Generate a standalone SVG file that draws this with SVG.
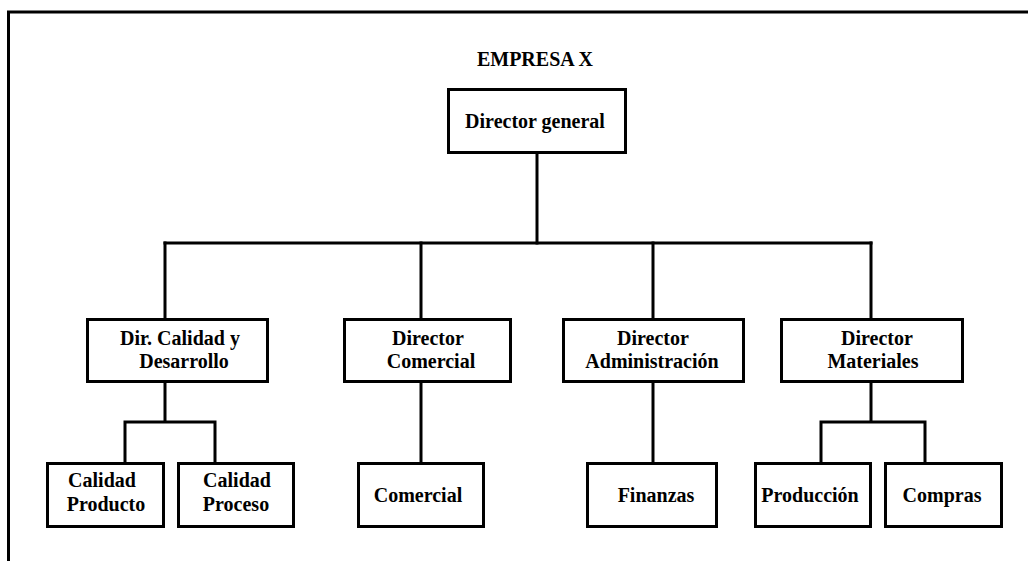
<svg xmlns="http://www.w3.org/2000/svg" width="1028" height="561" viewBox="0 0 1028 561">
  <style>
    .box { fill: #ffffff; stroke: #000000; stroke-width: 3; }
    .link { fill: none; stroke: #000000; stroke-width: 3; stroke-linecap: square; }
    .frame { fill: none; stroke: #000000; stroke-width: 3; }
    text { font-family: "Liberation Serif", "Times New Roman", serif; font-weight: bold; font-size: 20px; fill: #000000; text-anchor: middle; }
  </style>
  <rect width="1028" height="561" fill="#ffffff"/>

  <!-- open frame: top and left edges only -->
  <path class="frame" d="M8.5,561 V12 H1028"/>

  <text id="title" x="535" y="66">EMPRESA X</text>

  <!-- connectors -->
  <g id="connectors">
    <path class="link" d="M537,153 V243"/>
    <path class="link" d="M165,243 H871"/>
    <path class="link" d="M165,243 V318 M421,243 V318 M653,243 V318 M871,243 V318"/>
    <path class="link" d="M165,383 V422 M125,422 H215 M125,422 V462 M215,422 V462"/>
    <path class="link" d="M421,383 V462"/>
    <path class="link" d="M653,383 V462"/>
    <path class="link" d="M871,383 V422 M821,422 H925 M821,422 V462 M925,422 V462"/>
  </g>

  <!-- top level -->
  <g id="director-general">
    <rect class="box" x="448.5" y="89.5" width="177" height="63"/>
    <text x="535" y="128">Director general</text>
  </g>

  <!-- second level -->
  <g id="dir-calidad">
    <rect class="box" x="87.5" y="319.5" width="180" height="62"/>
    <text x="180" y="345">Dir. Calidad y</text>
    <text x="184" y="368">Desarrollo</text>
  </g>
  <g id="dir-comercial">
    <rect class="box" x="344.5" y="319.5" width="166" height="62"/>
    <text x="428" y="345">Director</text>
    <text x="431" y="368">Comercial</text>
  </g>
  <g id="dir-administracion">
    <rect class="box" x="563.5" y="319.5" width="180" height="62"/>
    <text x="653" y="345">Director</text>
    <text x="652" y="368">Administración</text>
  </g>
  <g id="dir-materiales">
    <rect class="box" x="781.5" y="319.5" width="181" height="62"/>
    <text x="877" y="345">Director</text>
    <text x="873" y="368">Materiales</text>
  </g>

  <!-- third level -->
  <g id="calidad-producto">
    <rect class="box" x="47.5" y="463.5" width="116" height="63"/>
    <text x="102" y="487">Calidad</text>
    <text x="106" y="511">Producto</text>
  </g>
  <g id="calidad-proceso">
    <rect class="box" x="178.5" y="463.5" width="115" height="63"/>
    <text x="237" y="487">Calidad</text>
    <text x="236" y="511">Proceso</text>
  </g>
  <g id="comercial">
    <rect class="box" x="358.5" y="463.5" width="125" height="63"/>
    <text x="418" y="502">Comercial</text>
  </g>
  <g id="finanzas">
    <rect class="box" x="587.5" y="463.5" width="129" height="63"/>
    <text x="656" y="502">Finanzas</text>
  </g>
  <g id="produccion">
    <rect class="box" x="755.5" y="463.5" width="115" height="63"/>
    <text x="810" y="502">Producción</text>
  </g>
  <g id="compras">
    <rect class="box" x="885.5" y="463.5" width="116" height="63"/>
    <text x="942" y="502">Compras</text>
  </g>
</svg>
